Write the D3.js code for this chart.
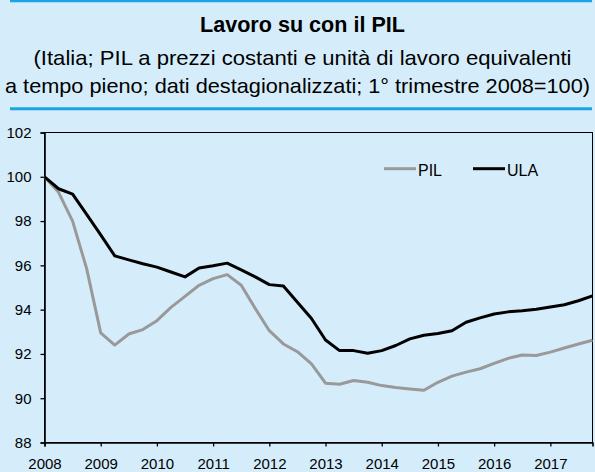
<!DOCTYPE html>
<html>
<head>
<meta charset="utf-8">
<script src="https://cdn.jsdelivr.net/npm/d3@7"></script>
<style>
  html, body { margin: 0; padding: 0; background: #d5edfa; }
  svg { display: block; }
  .tick text { font-family: 'Liberation Sans', Arial, sans-serif; font-size: 15px; fill: #000; }
  .title { font-family: 'Liberation Sans', Arial, sans-serif; fill: #000; }
</style>
</head>
<body>
<div id="chart"></div>
<script>
// quarterly data, 2008 Q1 .. 2017 Q4 (1° trim. 2008 = 100)
const years = ['2008', '2009', '2010', '2011', '2012', '2013', '2014', '2015', '2016', '2017'];
const seriesNames = ['PIL', 'ULA'];
const pil = [100, 99.3, 98.0, 95.85, 92.95, 92.4, 92.9, 93.1, 93.5, 94.1,
  94.6, 95.1, 95.4, 95.58, 95.1, 94.05, 93.05, 92.45, 92.1, 91.55,
  90.68, 90.63, 90.8, 90.72, 90.57, 90.48, 90.42, 90.36, 90.72, 91.0,
  91.18, 91.33, 91.57, 91.8, 91.95, 91.93, 92.08, 92.27, 92.45, 92.62];
const ula = [100, 99.46, 99.22, 98.3, 97.38, 96.43, 96.25, 96.07, 95.92, 95.7,
  95.48, 95.88, 95.98, 96.1, 95.8, 95.48, 95.13, 95.07, 94.33, 93.6,
  92.63, 92.15, 92.15, 92.03, 92.15, 92.38, 92.68, 92.84, 92.92, 93.05,
  93.43, 93.63, 93.8, 93.9, 93.95, 94.02, 94.12, 94.22, 94.4, 94.62];
const yTicks = [88, 90, 92, 94, 96, 98, 100, 102];

const W = 595, H = 472;
const margin = {top: 132.5, right: 2.5, bottom: 29.5, left: 44.5};
const width = W - margin.left - margin.right;
const height = H - margin.top - margin.bottom;

const svg = d3.select('#chart').append('svg')
  .attr('width', W)
  .attr('height', H);

svg.append('rect').attr('width', W).attr('height', H).attr('fill', '#d5edfa');

// header
svg.append('line').attr('x1', 10).attr('x2', 592).attr('y1', 1).attr('y2', 1)
  .attr('stroke', '#1ba3e3').attr('stroke-width', 2.5);
svg.append('line').attr('x1', 10).attr('x2', 592).attr('y1', 108.8).attr('y2', 108.8)
  .attr('stroke', '#1ba3e3').attr('stroke-width', 3);

// condensed face emulated via textLength
const titles = [
  {text: 'Lavoro su con il PIL', x: 200, y: 31.5, len: 205, size: 22, weight: 'bold'},
  {text: '(Italia; PIL a prezzi costanti e unità di lavoro equivalenti', x: 33.5, y: 64.5, len: 538, size: 21, weight: 'normal'},
  {text: 'a tempo pieno; dati destagionalizzati; 1° trimestre 2008=100)', x: 5, y: 92.7, len: 585, size: 21, weight: 'normal'}
];
titles.forEach(t => {
  svg.append('text').attr('class', 'title')
    .attr('x', t.x).attr('y', t.y)
    .attr('font-size', t.size).attr('font-weight', t.weight)
    .attr('textLength', t.len).attr('lengthAdjust', 'spacingAndGlyphs')
    .text(t.text);
});

const g = svg.append('g')
  .attr('transform', 'translate(' + margin.left + ',' + margin.top + ')');

const x = d3.scaleLinear().domain([0, pil.length - 1]).range([0, width]);
const y = d3.scaleLinear().domain([88, 102]).range([height, 0]);

// frame
g.append('rect').attr('width', width).attr('height', height)
  .attr('fill', 'none').attr('stroke', '#000').attr('stroke-width', 1);

const xAxis = g.append('g')
  .attr('transform', 'translate(0,' + height + ')')
  .call(d3.axisBottom(x)
    .tickValues(years.map((d, i) => i * 4))
    .tickFormat((d, i) => years[i])
    .tickSize(4).tickPadding(12));

const yAxis = g.append('g')
  .call(d3.axisLeft(y).tickValues(yTicks).tickSize(4).tickPadding(9));

[xAxis, yAxis].forEach(a => {
  a.select('.domain').attr('stroke', '#000').attr('stroke-width', 1.6);
  a.selectAll('.tick line').attr('stroke', '#000').attr('stroke-width', 1.3);
});

const line = d3.line()
  .x((d, i) => x(i))
  .y(d => y(d));

const colors = {PIL: '#999999', ULA: '#000000'};

g.append('path').datum(pil)
  .attr('fill', 'none').attr('stroke', colors.PIL).attr('stroke-width', 3)
  .attr('stroke-linejoin', 'round')
  .attr('d', line);

g.append('path').datum(ula)
  .attr('fill', 'none').attr('stroke', colors.ULA).attr('stroke-width', 3)
  .attr('stroke-linejoin', 'round')
  .attr('d', line);

// legend
const legendX = [384, 473];
seriesNames.forEach((name, i) => {
  const lg = svg.append('g').attr('transform', 'translate(' + legendX[i] + ',168.7)');
  lg.append('line').attr('x1', 0).attr('x2', 32).attr('y1', 0).attr('y2', 0)
    .attr('stroke', colors[name]).attr('stroke-width', 3);
  lg.append('text').attr('x', 34).attr('y', 7)
    .attr('font-family', "'Liberation Sans', Arial, sans-serif").attr('font-size', 16)
    .text(name);
});
</script>
</body>
</html>
